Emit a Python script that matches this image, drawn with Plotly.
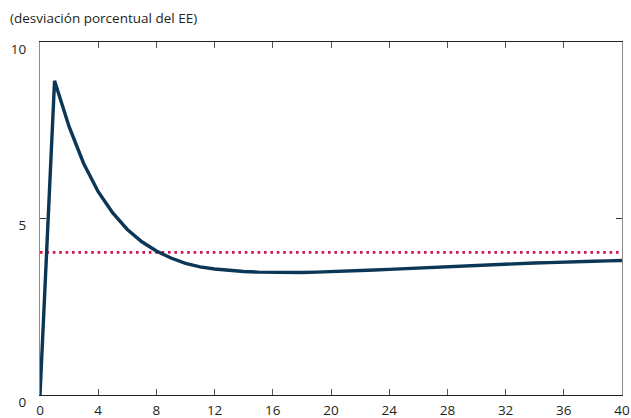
import plotly.graph_objects as go

# Quarters after the shock
quarters = list(range(0, 41))

# Response, percent deviation from steady state
response = [
    0.0, 8.9, 7.6, 6.56, 5.76, 5.16, 4.69, 4.34, 4.08, 3.88,
    3.73, 3.63, 3.57, 3.53, 3.50, 3.48, 3.47, 3.47, 3.47, 3.48,
    3.49, 3.50, 3.52, 3.54, 3.56, 3.58, 3.60, 3.62, 3.64, 3.66,
    3.68, 3.69, 3.71, 3.72, 3.74, 3.75, 3.77, 3.78, 3.79, 3.80,
    3.81,
]

# Reference level (horizontal dotted line)
reference_level = 4.04

x_ticks = list(range(0, 41, 4))
y_ticks = [0, 5, 10]

W, H = 631, 418
ML, MR, MT, MB = 40, 9, 42, 23
plot_w = W - ML - MR
plot_h = H - MT - MB

font_family = "Open Sans, Noto Sans, sans-serif"

fig = go.Figure()

fig.add_trace(go.Scatter(
    x=[quarters[0], quarters[-1]],
    y=[reference_level, reference_level],
    mode="lines",
    line=dict(color="#d4124c", width=2.7, dash="2.6px,3.8px"),
    hoverinfo="skip",
    showlegend=False,
))

fig.add_trace(go.Scatter(
    x=quarters,
    y=response,
    mode="lines",
    line=dict(color="#0b3656", width=3.4, shape="linear"),
    showlegend=False,
))

fig.update_layout(
    width=W,
    height=H,
    margin=dict(l=ML, r=MR, t=MT, b=MB),
    paper_bgcolor="white",
    plot_bgcolor="white",
    font=dict(family=font_family, size=13, color="#231f20"),
    xaxis=dict(
        range=[0, 40],
        tickvals=x_ticks,
        ticks="inside",
        ticklen=6,
        tickwidth=1,
        tickcolor="#555",
        showline=True,
        linecolor="#231f20",
        linewidth=1.2,
        mirror="ticks",
        showgrid=False,
        zeroline=False,
        automargin=False,
        tickfont=dict(size=13.5),
        ticklabelstandoff=3,
    ),
    yaxis=dict(
        range=[0, 10],
        tickvals=y_ticks,
        ticks="inside",
        ticklen=6,
        tickwidth=1,
        tickcolor="#333",
        showline=True,
        linecolor="#8a8a8a",
        linewidth=1.2,
        mirror="ticks",
        showgrid=False,
        zeroline=False,
        automargin=False,
        tickfont=dict(size=13.5),
        ticklabelshift=7,
        ticklabelstandoff=10,
    ),
    annotations=[
        dict(
            text="(desviación porcentual del EE)",
            xref="paper", yref="paper",
            x=(8 - ML) / plot_w, y=1 + (MT - 18) / plot_h,
            xanchor="left", yanchor="middle",
            showarrow=False,
            font=dict(size=13.5, family=font_family, color="#231f20"),
        )
    ],
)

fig.write_html("out.html")
